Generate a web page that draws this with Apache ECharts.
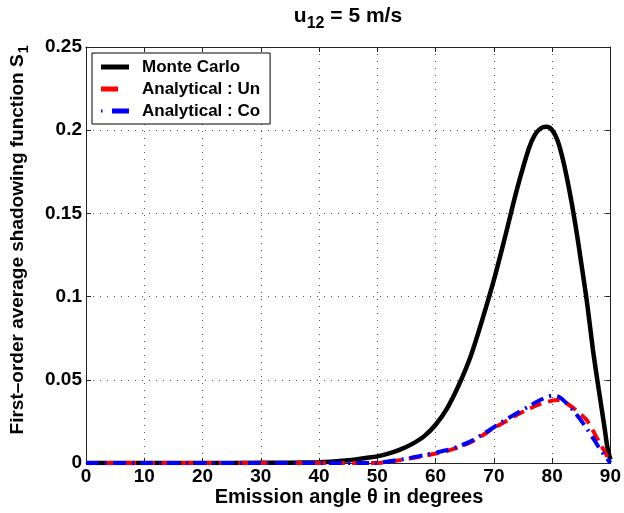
<!DOCTYPE html>
<html><head><meta charset="utf-8">
<script src="https://cdn.jsdelivr.net/npm/echarts@6/dist/echarts.min.js"></script>
<style>html,body{margin:0;padding:0;background:#fff}#c{width:624px;height:513px}</style>
</head><body><div id="c"></div>
<script>
// Monte Carlo
const mcTheta = [0,10,20,30,35,40,42,44,46,48,50,52,54,56,58,60,62,64,66,68,70,72,74,76,77,78,79,80,81,82,83,84,85,86,87,88,89,89.5,90];
const mcValue = [0,0,0,0.0001,0.0002,0.0005,0.0008,0.0013,0.002,0.003,0.004,0.0058,0.0082,0.0115,0.016,0.023,0.033,0.047,0.064,0.086,0.11,0.137,0.165,0.189,0.197,0.201,0.202,0.2,0.193,0.18,0.163,0.143,0.12,0.096,0.068,0.044,0.021,0.009,0.002];
// Analytical
const anTheta = [0,10,20,30,40,50,52,54,56,58,60,62,64,66,68,70,72,74,76,78,80,81,82,84,86,88,89,90];
const unValue = [0,0,0,0,0,0,0.0008,0.0018,0.003,0.0043,0.0057,0.0073,0.0095,0.0125,0.0165,0.021,0.025,0.029,0.0325,0.0355,0.0375,0.0378,0.037,0.032,0.0255,0.013,0.007,0];
const coValue = [0,0,0,0,0,0,0.001,0.002,0.0033,0.0047,0.0062,0.0078,0.0100,0.013,0.017,0.0215,0.026,0.030,0.034,0.038,0.0405,0.040,0.0375,0.030,0.0205,0.0095,0.0045,0];
const xTicks = {min: 0, max: 90, interval: 10};
const yTicks = {min: 0, max: 0.25, interval: 0.05};
const names = ['Monte Carlo', 'Analytical : Un', 'Analytical : Co'];

const zip = (xs, ys) => xs.map((x, i) => [x, ys[i]]);
const FONT = '"Liberation Sans", Arial, Helvetica, sans-serif';
const chart = echarts.init(document.getElementById('c'), null, {renderer: 'canvas'});

const axisCommon = {
  axisLine: {show: true, onZero: false, lineStyle: {color: '#222', width: 1}},
  axisTick: {show: true, inside: true, length: 5, lineStyle: {color: '#222'}},
};
const gridLine = {show: true, lineStyle: {color: '#555', type: [1, 6], width: 1}};
chart.setOption({
  animation: false,
  backgroundColor: '#fff',
  grid: {left: 86, right: 11, top: 47, bottom: 50},
  xAxis: [
    Object.assign({type: 'value', position: 'bottom', ...xTicks,
      axisLabel: {fontFamily: FONT, fontSize: 19, fontWeight: 'bold', color: '#000', margin: 4},
      splitLine: gridLine}, axisCommon),
    Object.assign({type: 'value', position: 'top', ...xTicks,
      axisLabel: {show: false}, splitLine: {show: false}}, axisCommon)
  ],
  yAxis: [
    Object.assign({type: 'value', position: 'left', ...yTicks,
      axisLabel: {fontFamily: FONT, fontSize: 19, fontWeight: 'bold', color: '#000', margin: 4},
      splitLine: gridLine}, axisCommon),
    Object.assign({type: 'value', position: 'right', ...yTicks,
      axisLabel: {show: false}, splitLine: {show: false}}, axisCommon)
  ],
  legend: {
    left: 92, top: 53, orient: 'vertical',
    backgroundColor: '#fff', borderColor: '#000', borderWidth: 1,
    padding: [3, 10, 2, 9], itemGap: 0, itemWidth: 28, itemHeight: 5,
    textStyle: {fontFamily: FONT, fontSize: 17, fontWeight: 'bold', color: '#000', lineHeight: 22, padding: [0, 0, 0, 8]},
    data: [
      {name: names[0], icon: 'path://M0,0H28V5H0Z', itemStyle: {color: '#000'}},
      {name: names[1], icon: 'path://M0,0H17V5H0ZM27.95,2.5H28V2.55H27.95Z', itemStyle: {color: '#f00'}},
      {name: names[2], icon: 'path://M0,1H1.5V4H0ZM11,0H28V5H11Z', itemStyle: {color: '#00f'}}
    ]
  },
  graphic: [
    {type: 'text', x: 348, y: 20,
      style: {text: '{a|u}{b|12}{a| = 5 m/s}', align: 'center', verticalAlign: 'middle',
        rich: {
          a: {fontFamily: FONT, fontSize: 21, fontWeight: 'bold', fill: '#000', verticalAlign: 'top', lineHeight: 28},
          b: {fontFamily: FONT, fontSize: 16, fontWeight: 'bold', fill: '#000', verticalAlign: 'top', padding: [10, 0, 0, 0], lineHeight: 28}
        }}},
    {type: 'text', x: 349, y: 497,
      style: {text: 'Emission angle θ in degrees', fontFamily: FONT, fontSize: 20, fontWeight: 'bold', fill: '#000', align: 'center', verticalAlign: 'middle'}},
    {type: 'text', x: 20, y: 240, rotation: Math.PI / 2,
      style: {text: '{a|First–order average shadowing function S}{b|1}', align: 'center', verticalAlign: 'middle',
        rich: {
          a: {fontFamily: FONT, fontSize: 19, fontWeight: 'bold', fill: '#000', verticalAlign: 'top', lineHeight: 24},
          b: {fontFamily: FONT, fontSize: 14, fontWeight: 'bold', fill: '#000', verticalAlign: 'top', padding: [9, 0, 0, 1], lineHeight: 24}
        }}}
  ],
  series: [
    {name: names[0], type: 'line', data: zip(mcTheta, mcValue), smooth: 0.3, showSymbol: false,
      lineStyle: {color: '#000', width: 4.5}, itemStyle: {color: '#000'}, z: 2},
    {name: names[1], type: 'line', data: zip(anTheta, unValue), smooth: 0.2, showSymbol: false,
      lineStyle: {color: '#f00', width: 4, type: [12, 7]}, itemStyle: {color: '#f00'}, z: 3},
    {name: names[2], type: 'line', data: zip(anTheta, coValue), smooth: 0.2, showSymbol: false,
      lineStyle: {color: '#00f', width: 4, type: [13, 6, 2, 6]}, itemStyle: {color: '#00f'}, z: 4}
  ]
});
</script></body></html>
